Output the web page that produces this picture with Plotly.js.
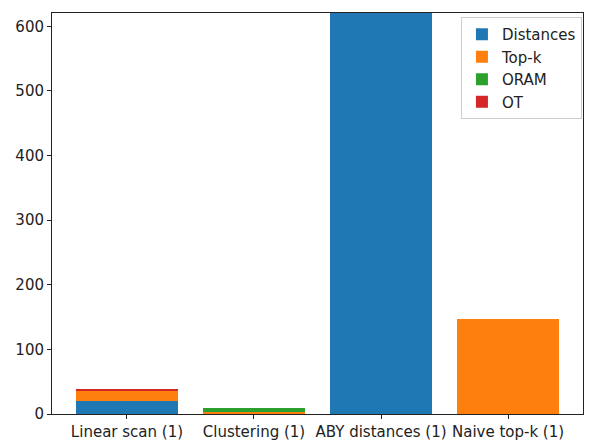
<!DOCTYPE html>
<html>
<head>
<meta charset="utf-8">
<script src="https://cdn.plot.ly/plotly-3.0.1.min.js"></script>
<style>html,body{margin:0;padding:0;background:#fff}#chart{width:590px;height:440px}</style>
</head>
<body>
<div id="chart"></div>
<script>
const categories = ["Linear scan (1)", "Clustering (1)", "ABY distances (1)", "Naive top-k (1)"];
const distances = [20, 0.7, 650, 0];
const topk = [15.5, 2.3, 0, 147];
const oram = [0, 5.7, 0, 0];
const ot = [3, 0, 0, 0];
const yTicks = [0, 100, 200, 300, 400, 500, 600];

const seriesNames = ["Distances", "Top-k", "ORAM", "OT"];
const seriesValues = [distances, topk, oram, ot];
const colors = ["#1f77b4", "#ff7f0e", "#2ca02c", "#d62728"];

const traces = seriesValues.map((vals, i) => ({
  type: "bar",
  name: seriesNames[i],
  x: categories.map((c, k) => k),
  y: vals,
  width: 0.8,
  marker: {color: colors[i], line: {width: 0}},
  hoverinfo: "skip"
}));

const layout = {
  width: 590, height: 440,
  margin: {l: 52, r: 7, t: 13, b: 26},
  barmode: "stack",
  bargap: 0.2,
  paper_bgcolor: "#fff",
  plot_bgcolor: "#fff",
  font: {family: "DejaVu Sans", size: 15, color: "#222"},
  showlegend: true,
  legend: {
    x: 0.998, y: 0.99, xanchor: "right", yanchor: "top",
    traceorder: "normal",
    bgcolor: "rgba(255,255,255,0.8)", bordercolor: "#cccccc", borderwidth: 1,
    font: {family: "DejaVu Sans", size: 15, color: "#222"},
    tracegroupgap: 0
  },
  xaxis: {
    range: [-0.59, 3.59],
    tickmode: "array",
    tickvals: categories.map((c, k) => k),
    ticktext: categories,
    showgrid: false, zeroline: false,
    showline: true, linecolor: "#222", linewidth: 1, mirror: true,
    ticks: "outside", ticklen: 4, tickcolor: "#222", tickwidth: 1,
    tickfont: {size: 15}
  },
  yaxis: {
    range: [0, 620.7],
    tickmode: "array",
    tickvals: yTicks,
    ticktext: yTicks.map(String),
    showgrid: false, zeroline: false,
    showline: true, linecolor: "#222", linewidth: 1, mirror: true,
    ticks: "outside", ticklen: 4, tickcolor: "#222", tickwidth: 1,
    tickfont: {size: 15}
  }
};

Plotly.newPlot("chart", traces, layout, {displayModeBar: false, staticPlot: true});
</script>
</body>
</html>
